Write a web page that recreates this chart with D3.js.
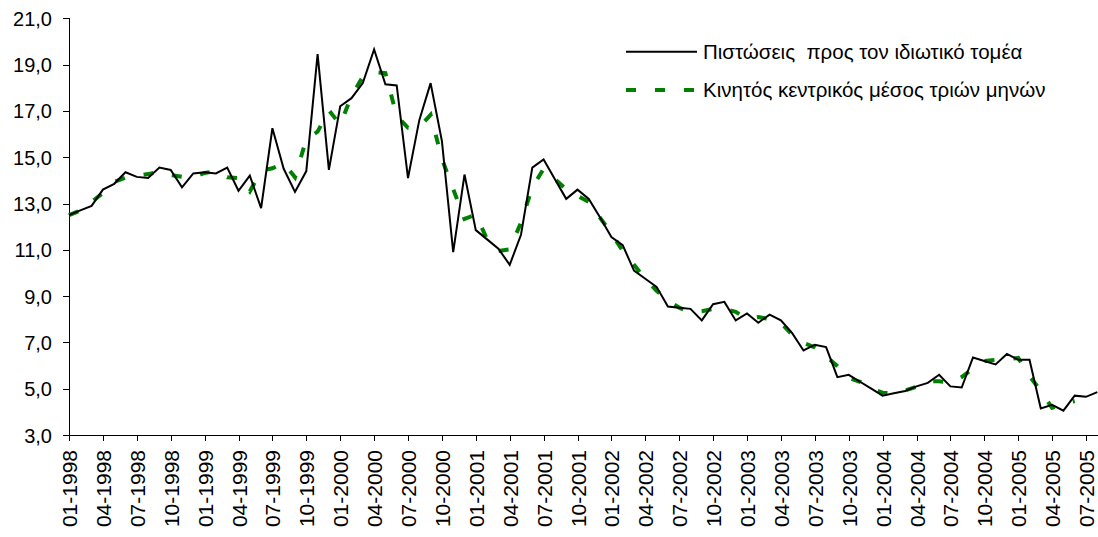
<!DOCTYPE html>
<html>
<head>
<meta charset="utf-8">
<script src="https://cdn.jsdelivr.net/npm/d3@7"></script>
<style>
  body { margin: 0; background: #fff; }
  svg { display: block; }
  text { font-family: "Liberation Sans", Arial, sans-serif; fill: #000; }
  .axis path, .axis line { stroke: #000; stroke-width: 1; shape-rendering: crispEdges; }
</style>
</head>
<body>
<svg width="1098" height="537"></svg>
<script>
// monthly credit growth to the private sector, 01-1998 .. 08-2005
var credit = [
  12.5, 12.7, 12.9, 13.6, 13.85, 14.35, 14.15, 14.1, 14.55, 14.45, 13.7, 14.3,
  14.35, 14.3, 14.55, 13.55, 14.2, 12.8, 16.25, 14.5, 13.5, 14.4, 19.45, 14.45,
  17.2, 17.55, 18.2, 19.65, 18.15, 18.1, 14.1, 16.6, 18.2, 15.7, 10.9, 14.25,
  11.85, 11.45, 11.05, 10.35, 11.65, 14.55, 14.9, 14.05, 13.2, 13.6, 13.2, 12.4,
  11.55, 11.2, 10.1, 9.75, 9.4, 8.55, 8.5, 8.45, 7.95, 8.65, 8.75, 7.95,
  8.25, 7.85, 8.2, 7.95, 7.4, 6.65, 6.9, 6.8, 5.5, 5.6, 5.3, 5.0,
  4.7, 4.8, 4.9, 5.1, 5.25, 5.6, 5.1, 5.05, 6.35, 6.2, 6.05, 6.5,
  6.25, 6.25, 4.15, 4.3, 4.05, 4.7, 4.65, 4.85
];

// three-month centred moving average
var movingAvg = [
  12.5, 12.7, 13.07, 13.45, 13.93, 14.12, 14.2, 14.27, 14.37, 14.23, 14.15, 14.12,
  14.32, 14.4, 14.13, 14.1, 13.52, 14.42, 14.52, 14.75, 14.13, 15.78, 16.1, 17.03,
  16.4, 17.65, 18.47, 18.67, 18.63, 16.78, 16.27, 16.3, 16.83, 14.93, 13.62, 12.33,
  12.52, 11.45, 10.95, 11.02, 12.18, 13.7, 14.5, 14.05, 13.62, 13.33, 13.07, 12.38,
  11.72, 10.95, 10.35, 9.75, 9.23, 8.82, 8.5, 8.3, 8.35, 8.45, 8.45, 8.32,
  8.02, 8.1, 8.0, 7.85, 7.33, 6.98, 6.78, 6.4, 5.97, 5.47, 5.3, 5.0,
  4.83, 4.8, 4.93, 5.08, 5.32, 5.32, 5.25, 5.5, 5.87, 6.2, 6.25, 6.27,
  6.33, 5.55, 4.9, 4.17, 4.35, 4.47
];

var yTicks = [3, 5, 7, 9, 11, 13, 15, 17, 19, 21];
var seriesNames = ["Πιστώσεις  προς τον ιδιωτικό τομέα", "Κινητός κεντρικός μέσος τριών μηνών"];

var svg = d3.select("svg");

// month categories
var months = d3.timeMonth.range(new Date(1998, 0, 1), new Date(1998, 0 + credit.length, 1));
var fmt = d3.timeFormat("%m-%Y");
var labels = months.map(fmt);

// scales
var x = d3.scalePoint().domain(labels).range([69, 1097.3]);
var y = d3.scaleLinear().domain([3, 21]).range([435, 18.3]);

// y axis
svg.append("g").attr("class", "axis")
  .attr("transform", "translate(69,0)")
  .call(d3.axisLeft(y).tickValues(yTicks).tickSize(6).tickPadding(11)
    .tickFormat(function (d) { return d3.format(".1f")(d).replace(".", ","); }))
  .call(function (g) {
    g.select(".domain").attr("d", "M0," + y(3) + "V" + y(21));
    g.selectAll("text").style("font-size", "20px").attr("dy", "0.35em");
  });

// x axis (ticks every quarter)
svg.append("g").attr("class", "axis")
  .attr("transform", "translate(0," + y(3) + ")")
  .call(d3.axisBottom(x).tickValues(labels.filter(function (d, i) { return i % 3 === 0; })).tickSize(6))
  .call(function (g) {
    g.select(".domain").attr("d", "M69,0H1098");
    g.selectAll("text")
      .style("font-size", "21px")
      .attr("transform", "rotate(-90)")
      .attr("text-anchor", "end")
      .attr("x", -15)
      .attr("y", 0)
      .attr("dy", "0.36em");
  });

// lines
var line = d3.line()
  .x(function (d, i) { return x(labels[i]); })
  .y(function (d) { return y(d); });

svg.append("path").datum(movingAvg)
  .attr("fill", "none")
  .attr("stroke", "#008000")
  .attr("stroke-width", 4)
  .attr("stroke-dasharray", "10,19")
  .attr("d", line);

svg.append("path").datum(credit)
  .attr("fill", "none")
  .attr("stroke", "#000")
  .attr("stroke-width", 2)
  .attr("stroke-linejoin", "miter")
  .attr("d", line);

// legend
var legend = svg.append("g").attr("transform", "translate(626,0)");
legend.append("line").attr("x1", 0).attr("x2", 71).attr("y1", 51.7).attr("y2", 51.7)
  .attr("stroke", "#000").attr("stroke-width", 2);
legend.append("line").attr("x1", 0).attr("x2", 68).attr("y1", 90).attr("y2", 90)
  .attr("stroke", "#008000").attr("stroke-width", 4).attr("stroke-dasharray", "10,19");
legend.selectAll("text.lg").data(seriesNames).enter().append("text")
  .attr("class", "lg")
  .attr("x", 77)
  .attr("y", function (d, i) { return i === 0 ? 51.7 : 90; })
  .attr("dy", "0.35em")
  .style("font-size", "20.5px")
  .style("white-space", "pre")
  .text(function (d) { return d; });
</script>
</body>
</html>
